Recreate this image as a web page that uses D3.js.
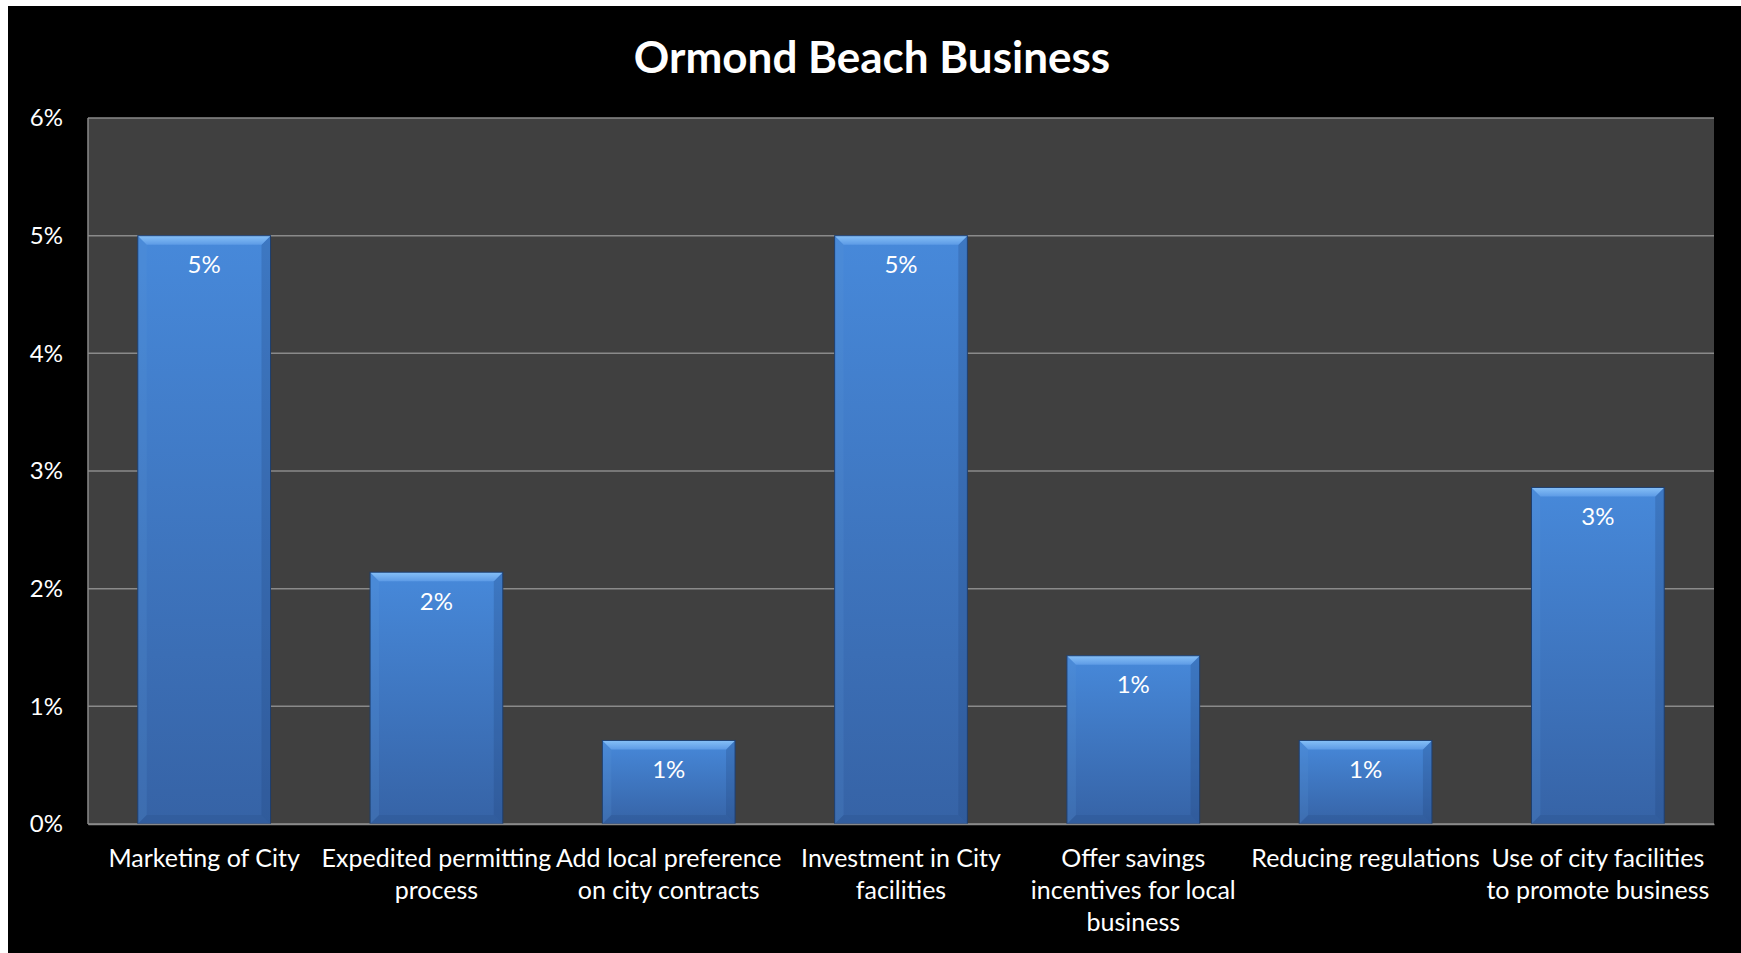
<!DOCTYPE html>
<html>
<head>
<meta charset="utf-8">
<script src="https://cdn.jsdelivr.net/npm/d3@7"></script>
<style>
  html, body { margin: 0; padding: 0; background: #fff; }
  svg { display: block; }
</style>
</head>
<body>
<div id="chart"></div>
<script>
// data
var categories = [
  "Marketing of City",
  "Expedited permitting\nprocess",
  "Add local preference\non city contracts",
  "Investment in City\nfacilities",
  "Offer savings\nincentives for local\nbusiness",
  "Reducing regulations",
  "Use of city facilities\nto promote business"
];
var values = [5.0, 2.14, 0.71, 5.0, 1.43, 0.71, 2.86];
var yTicks = [0, 1, 2, 3, 4, 5, 6];
var title = "Ormond Beach Business";

(function () {
  var width = 1741,
      height = 953;
  var margin = { top: 118, right: 27, bottom: 129, left: 88 };
  var font = "Lato, 'Open Sans', sans-serif";

  var svg = d3.select('#chart')
              .append('svg')
              .attr('width', width)
              .attr('height', height);

  // white frame then black background
  svg.append('rect')
     .attr('width', width).attr('height', height)
     .style('fill', '#fff');
  svg.append('rect')
     .attr('x', 8).attr('y', 6)
     .attr('width', width - 8).attr('height', height - 6)
     .style('fill', '#000');

  var defs = svg.append('defs');
  var face = defs.append('linearGradient')
                 .attr('id', 'face').attr('x1', 0).attr('y1', 0).attr('x2', 0).attr('y2', 1);
  face.append('stop').attr('offset', '0%').attr('stop-color', '#4789da');
  face.append('stop').attr('offset', '100%').attr('stop-color', '#3663a6');
  var topG = defs.append('linearGradient')
                 .attr('id', 'bevelTop').attr('x1', 0).attr('y1', 0).attr('x2', 0).attr('y2', 1);
  topG.append('stop').attr('offset', '0%').attr('stop-color', '#86c0f7');
  topG.append('stop').attr('offset', '100%').attr('stop-color', '#5d9be6');

  var w = width - margin.left - margin.right,
      h = height - margin.top - margin.bottom;

  var g = svg.append('g')
             .attr('transform', 'translate(' + margin.left + ',' + margin.top + ')');

  var xScale = d3.scaleBand()
                 .domain(categories)
                 .range([0, w])
                 .paddingInner(0.75 / 1.75)
                 .paddingOuter(0.75 / 3.5);

  var yScale = d3.scaleLinear()
                 .domain([0, 6])
                 .range([h, 0]);

  // plot area
  g.append('rect')
   .attr('width', w).attr('height', h)
   .style('fill', '#404040');

  // gridlines
  g.selectAll('.grid')
   .data(yTicks)
   .enter()
   .append('line')
   .attr('class', 'grid')
   .attr('x1', 0).attr('x2', w)
   .attr('y1', function(d) { return yScale(d); })
   .attr('y2', function(d) { return yScale(d); })
   .style('stroke', '#8a8a8a')
   .style('stroke-width', 1.5);

  g.append('line')
   .attr('x1', 0).attr('x2', 0)
   .attr('y1', 0).attr('y2', h)
   .style('stroke', '#8a8a8a')
   .style('stroke-width', 1.5);

  // bars with a bevel
  var bev = 9;
  var bars = g.selectAll('.bar')
              .data(values)
              .enter()
              .append('g')
              .attr('class', 'bar');

  bars.append('rect')
      .attr('x', function(d, i) { return xScale(categories[i]); })
      .attr('y', function(d) { return yScale(d); })
      .attr('width', xScale.bandwidth())
      .attr('height', function(d) { return h - yScale(d); })
      .style('fill', 'url(#face)');

  function pts(arr) { return arr.map(function(p) { return p.join(','); }).join(' '); }

  // left side
  bars.append('polygon')
      .attr('points', function(d, i) {
        var x0 = xScale(categories[i]), y0 = yScale(d);
        return pts([[x0, y0], [x0 + bev, y0 + bev], [x0 + bev, h - bev], [x0, h]]);
      })
      .style('fill', '#5b94d8').style('opacity', 0.2);
  // right side
  bars.append('polygon')
      .attr('points', function(d, i) {
        var x1 = xScale(categories[i]) + xScale.bandwidth(), y0 = yScale(d);
        return pts([[x1, y0], [x1 - bev, y0 + bev], [x1 - bev, h - bev], [x1, h]]);
      })
      .style('fill', '#21457a').style('opacity', 0.25);
  // bottom
  bars.append('polygon')
      .attr('points', function(d, i) {
        var x0 = xScale(categories[i]), x1 = x0 + xScale.bandwidth();
        return pts([[x0, h], [x0 + bev, h - bev], [x1 - bev, h - bev], [x1, h]]);
      })
      .style('fill', '#2a5290').style('opacity', 0.35);
  // top
  bars.append('polygon')
      .attr('points', function(d, i) {
        var x0 = xScale(categories[i]), x1 = x0 + xScale.bandwidth(), y0 = yScale(d);
        return pts([[x0, y0], [x1, y0], [x1 - bev, y0 + bev], [x0 + bev, y0 + bev]]);
      })
      .style('fill', 'url(#bevelTop)');

  bars.append('rect')
      .attr('x', function(d, i) { return xScale(categories[i]); })
      .attr('y', function(d) { return yScale(d); })
      .attr('width', xScale.bandwidth())
      .attr('height', function(d) { return h - yScale(d); })
      .style('fill', 'none')
      .style('stroke', '#1f3f6e')
      .style('stroke-width', 1);

  // value labels
  g.selectAll('.val')
   .data(values)
   .enter()
   .append('text')
   .attr('class', 'val')
   .text(function(d) { return d3.format('.0f')(d) + '%'; })
   .attr('x', function(d, i) { return xScale(categories[i]) + xScale.bandwidth() / 2; })
   .attr('y', function(d) { return yScale(d) + 29; })
   .attr('dy', '0.35em')
   .style('fill', '#fff')
   .style('font-family', font)
   .style('font-size', '24px')
   .style('text-anchor', 'middle');

  // y axis
  var yAxis = g.append('g')
               .attr('class', 'y axis')
               .call(d3.axisLeft(yScale).tickValues(yTicks)
                       .tickFormat(function(d) { return d + '%'; })
                       .tickSize(0).tickPadding(25));
  yAxis.select('.domain').remove();
  yAxis.selectAll('text')
       .style('fill', '#fff')
       .style('font-family', font)
       .style('font-size', '24px');

  // x axis
  var xAxis = g.append('g')
               .attr('class', 'x axis')
               .attr('transform', 'translate(0,' + h + ')')
               .call(d3.axisBottom(xScale).tickSize(0).tickFormat(''));
  xAxis.select('.domain')
       .style('stroke', '#8a8a8a')
       .style('stroke-width', 1.5);

  xAxis.selectAll('.tick')
       .append('text')
       .style('fill', '#fff')
       .style('font-family', font)
       .style('font-size', '25px')
       .style('text-anchor', 'middle')
       .selectAll('tspan')
       .data(function(d) { return d.split('\n'); })
       .enter()
       .append('tspan')
       .attr('x', 0)
       .attr('y', function(d, i) { return 34 + i * 32; })
       .attr('dy', '0.35em')
       .text(function(d) { return d; });

  // title
  svg.append('text')
     .attr('x', 872)
     .attr('y', 58)
     .attr('dy', '0.35em')
     .text(title)
     .style('fill', '#fff')
     .style('font-family', font)
     .style('font-weight', 'bold')
     .style('font-size', '44px')
     .style('text-anchor', 'middle');
})();
</script>
</body>
</html>
